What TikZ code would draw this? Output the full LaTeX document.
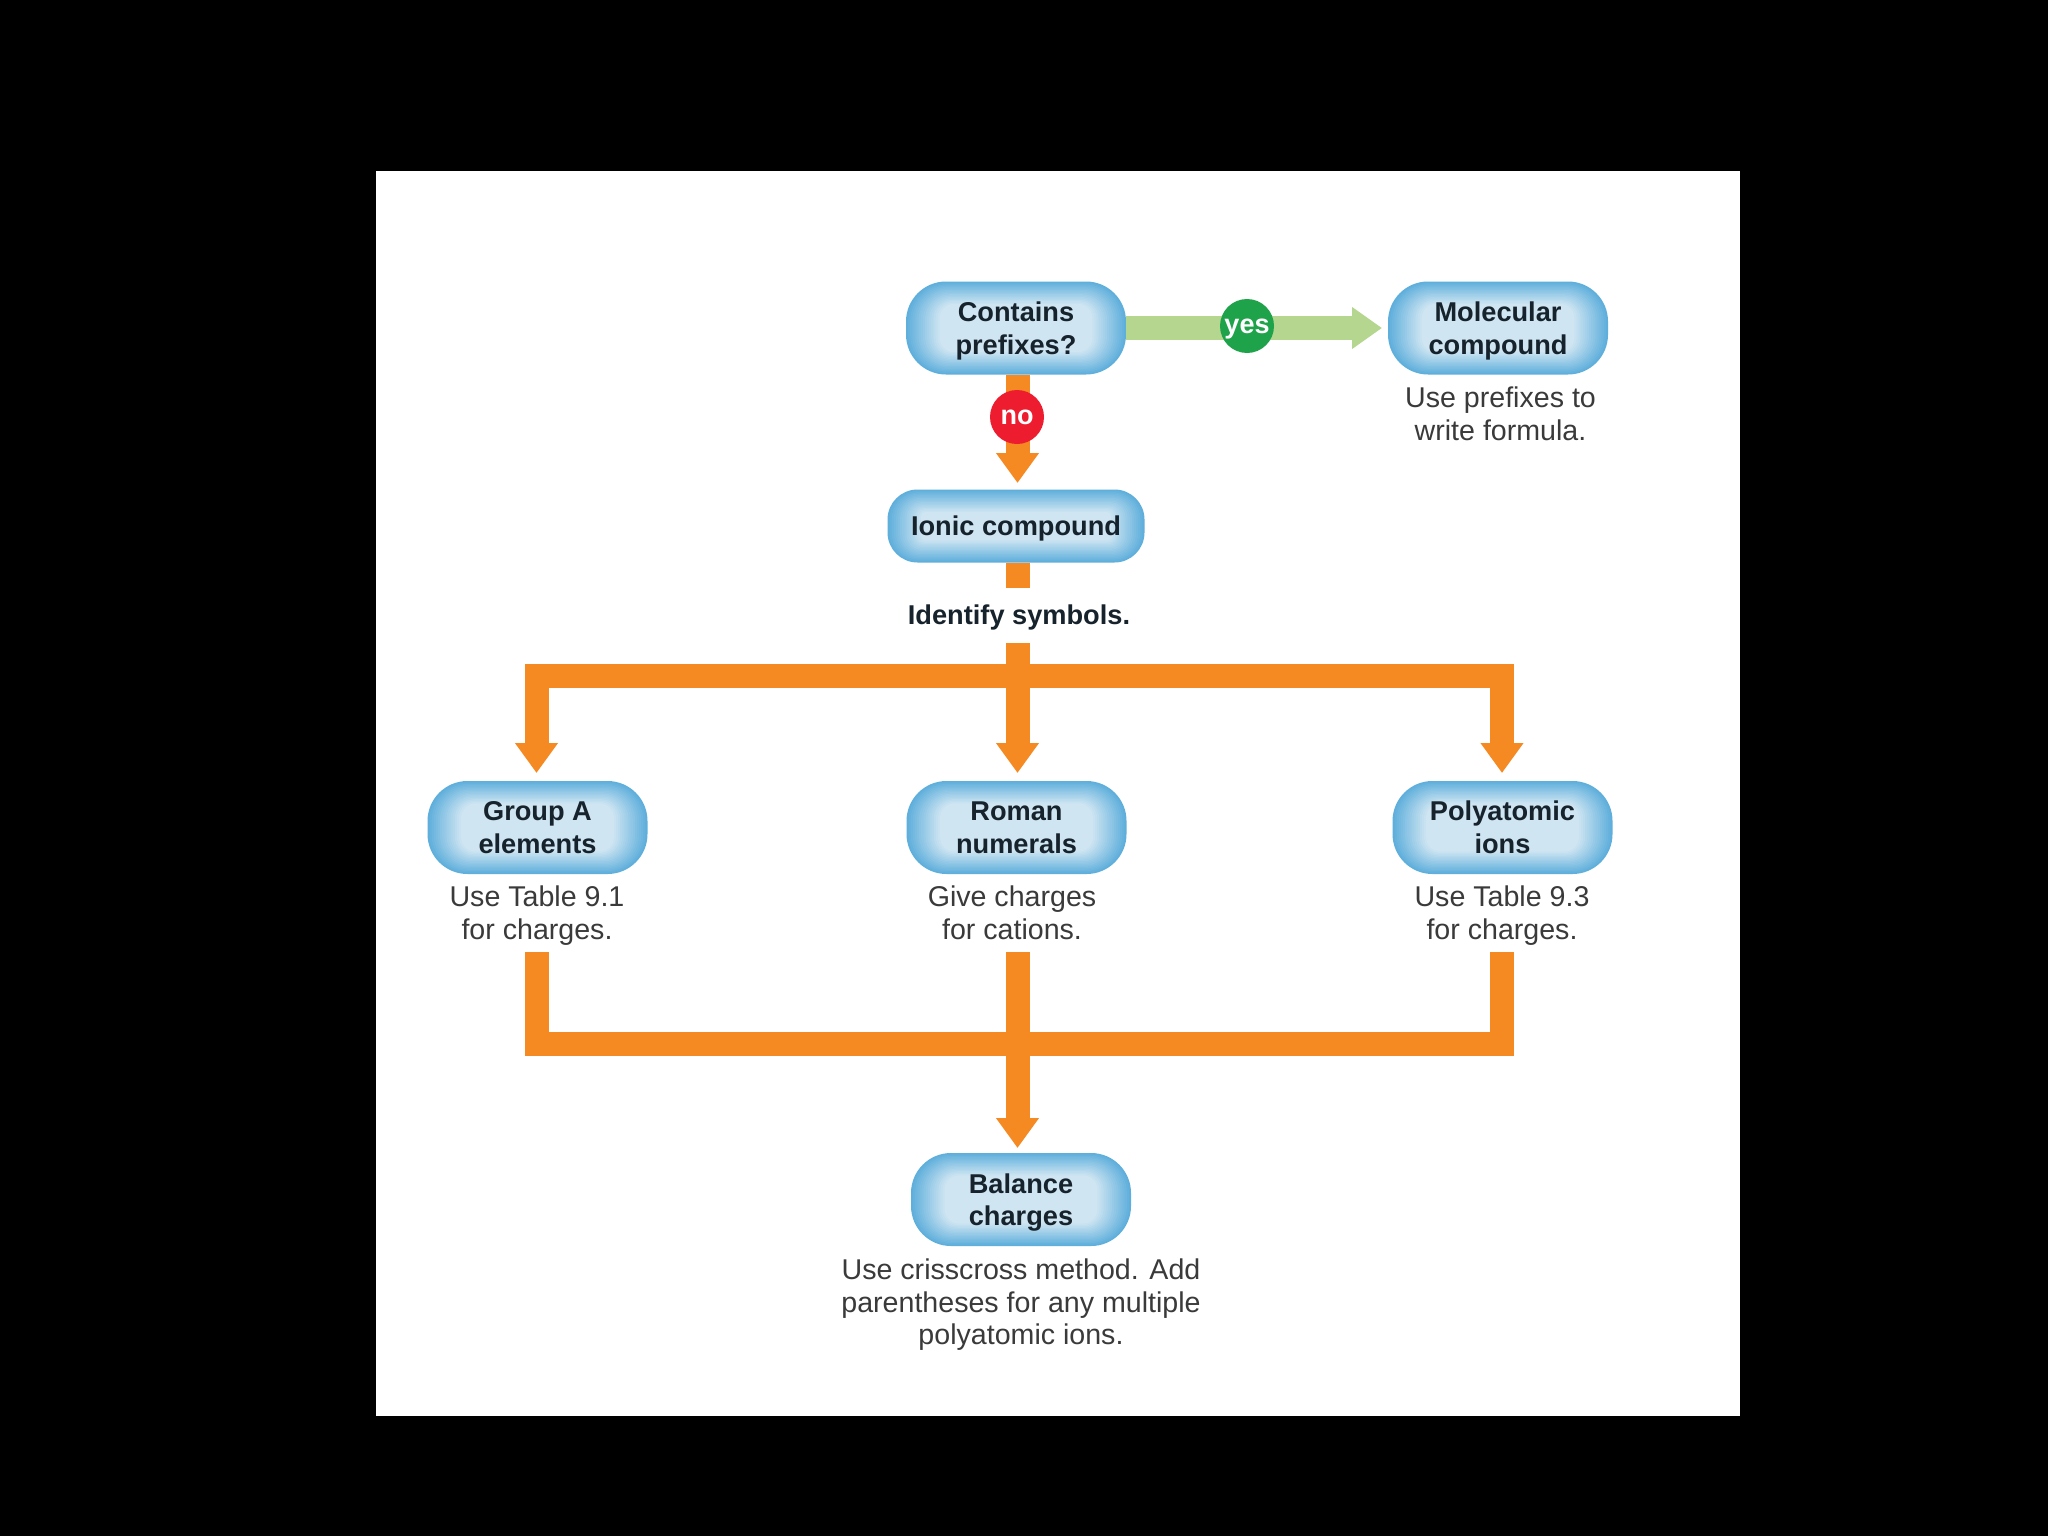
\documentclass[tikz,border=0pt]{standalone}
\usepackage{fontspec}
\setmainfont{Liberation Sans}
\usetikzlibrary{arrows.meta}
\definecolor{pillA}{HTML}{5FAFDC}
\definecolor{pillB}{HTML}{CFE6F2}
\definecolor{flowOrange}{HTML}{F58A23}
\definecolor{flowGreen}{HTML}{B4D68E}
\definecolor{yesGreen}{HTML}{1FA34A}
\definecolor{noRed}{HTML}{ED1C2E}
\definecolor{boldInk}{HTML}{16222C}
\definecolor{noteInk}{HTML}{3A3A3A}
\newcommand{\nodepth}[1]{\raisebox{0pt}[\height][0pt]{#1}}
\tikzset{
  pillbox/.style={rounded corners=#1pt, draw=none, fill=pillA, inner sep=0pt, align=center,
    text=boldInk, font=\fontsize{13.6}{16.3}\selectfont\bfseries,
    path picture={
      \foreach \i in {1,...,16}{
        \pgfmathsetmacro\rr{max(2,#1-\i*0.8)}
        \pgfmathsetmacro\pct{\i*100/16}
        \fill[pillB!\pct!pillA, rounded corners=\rr pt]
          ([shift={(\i*1.05pt,\i*0.7pt)}]path picture bounding box.south west) rectangle
          ([shift={(-\i*1.05pt,-\i*0.7pt)}]path picture bounding box.north east);
      }
    }},
  bigpill/.style={pillbox=20, minimum width=110pt, minimum height=46.5pt},
  notetext/.style={inner sep=0pt, align=center, text=noteInk, font=\fontsize{14.3}{16.3}\selectfont},
  boldtext/.style={inner sep=0pt, align=center, text=boldInk, font=\fontsize{13.6}{16.3}\selectfont\bfseries},
  badge/.style={circle, inner sep=0pt, minimum size=27pt, text=white, font=\fontsize{13.5}{16}\selectfont\bfseries},
  flow/.style={draw=flowOrange, line width=12pt, line join=miter},
  flowhead/.style={flow, -{Triangle[width=20.5pt,length=15pt]}},
  greenhead/.style={draw=flowGreen, line width=12pt, -{Triangle[width=20pt,length=15pt]}}
}
\begin{document}
\begin{tikzpicture}[x=0.5pt,y=-0.5pt]
\useasboundingbox (0,0) rectangle (2048,1536);
\fill[black] (0,0) rectangle (2048,1536);
\fill[white] (376,171) rectangle (1740,1416);

% named nodes are placed first so that connectors may refer to them
\node[bigpill] (contains) at (1016,328) {Contains\\\nodepth{prefixes?}};
\node[bigpill] (molecular) at (1498,328) {Molecular\\\nodepth{compound}};
\node[pillbox=15, minimum width=128.5pt, minimum height=36.5pt] (ionic) at (1016,526) {\nodepth{Ionic compound}};
\node[boldtext] (identify) at (1019,615) {\nodepth{Identify symbols.}};
\node[bigpill] (groupa) at (537.5,827.5) {Group A\\elements};
\node[bigpill] (roman) at (1016.5,827.5) {Roman\\numerals};
\node[bigpill] (poly) at (1502.5,827.5) {Polyatomic\\ions};
\node[bigpill] (balance) at (1021,1199.5) {Balance\\\nodepth{charges}};

\node[notetext] (notemol) at (1500.5,413.5) {Use prefixes to\\write formula.};
\node[notetext] (notegroup) at (537,912.5) {Use Table 9.1\\\nodepth{for charges.}};
\node[notetext] (noteroman) at (1012,912.5) {Give charges\\for cations.};
\node[notetext] (notepoly) at (1502,912.5) {Use Table 9.3\\\nodepth{for charges.}};
\node[notetext] (notebal) at (1021,1302) {Use crisscross method. Add\\parentheses for any multiple\\\nodepth{polyatomic ions.}};

% junction and free-end coordinates
\coordinate (stubend) at (1017.5,588);
\coordinate (topstem) at (1017.5,643);
\coordinate (topbar) at (1017.5,676);
\coordinate (topleft) at (536.5,676);
\coordinate (topright) at (1502,676);
\coordinate (lowleft) at (536.5,952);
\coordinate (lowmid) at (1017.5,952);
\coordinate (lowright) at (1502,952);
\coordinate (lowbar) at (1017.5,1043.5);
\coordinate (ionictip) at (1017.5,483);
\coordinate (leftTip) at (536.5,773);
\coordinate (midTip) at (1017.5,773);
\coordinate (rightTip) at (1502,773);
\coordinate (balTip) at (1017.5,1148);
\coordinate (molTip) at (1382,328);

% connectors
\draw[greenhead] (contains.east) -- (molTip);
\draw[flowhead] (contains.south -| ionictip) -- (ionictip);
\draw[flow] (ionic.south -| stubend) -- (stubend);
\draw[flowhead] (topstem) -- (midTip);
\draw[flowhead] (topbar) -- (topleft) -- (leftTip);
\draw[flowhead] (topbar) -- (topright) -- (rightTip);
\draw[flow] (lowleft) -- (lowleft |- lowbar) -- (lowbar -| lowright) -- (lowright);
\draw[flowhead] (lowmid) -- (balTip);

% badges on the connectors
\node[badge, fill=yesGreen] (yes) at (1247,326) {\nodepth{yes}};
\node[badge, fill=noRed] (no) at (1017,417) {no};
\end{tikzpicture}
\end{document}
